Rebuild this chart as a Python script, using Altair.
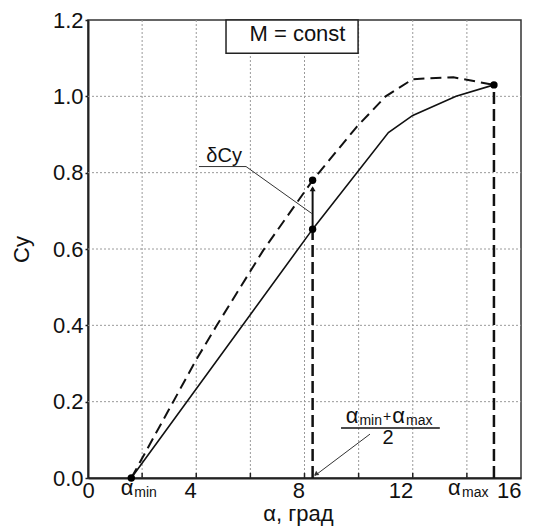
import altair as alt
import pandas as pd

# Lift coefficient Cy versus angle of attack (deg)
solid_alpha = [1.6, 8.3, 11.1, 12.0, 13.6, 15.0]
solid_cy = [0.0, 0.652, 0.905, 0.95, 1.0, 1.03]

dashed_alpha = [1.6, 3.15, 4.0, 4.76, 6.48, 8.3, 9.93, 11.0, 12.0, 13.5, 15.0]
dashed_cy = [0.0, 0.2, 0.31, 0.4, 0.597, 0.78, 0.92, 1.0, 1.045, 1.05, 1.03]

alpha_min = 1.6
alpha_max = 15.0
alpha_mid = (alpha_min + alpha_max) / 2
cy_mid_solid = 0.652
cy_mid_dashed = 0.78
cy_end = 1.03

x_ticks = [0, 4, 8, 12, 16]
x_grid = [2, 4, 6, 8, 10, 12, 14]
y_ticks = [0.0, 0.2, 0.4, 0.6, 0.8, 1.0, 1.2]
y_grid = [0.2, 0.4, 0.6, 0.8, 1.0]

W, H = 433, 458
FONT = "Liberation Sans"
INK = "#111111"
X_TITLE = "α, град"
Y_TITLE = "Cy"

xs = alt.Scale(domain=[0, 16], nice=False, zero=False)
ys = alt.Scale(domain=[0, 1.2], nice=False, zero=False)


def X(field="a", **kw):
    return alt.X(f"{field}:Q", scale=xs, title=X_TITLE, **kw)


def Y(field="cy", **kw):
    return alt.Y(f"{field}:Q", scale=ys, title=Y_TITLE, **kw)


x_axis = alt.Axis(
    values=x_ticks, grid=False, ticks=False,
    labelFontSize=22,
    labelAlign={"condition": {"test": "datum.value == 0", "value": "center"}, "value": "right"},
    labelPadding=2, labelColor=INK,
    titleFontSize=22, titleFontWeight="normal", titleColor=INK, titlePadding=2,
    titleX=210, titleAlign="center",
    domainColor="#222222", domainWidth=2,
)
y_axis = alt.Axis(
    values=y_ticks, format=".1f", grid=False,
    tickSize=3, tickColor="#222222", tickWidth=1.5,
    labelFontSize=22, labelPadding=2, labelColor=INK,
    titleFontSize=22, titleFontWeight="normal", titleColor=INK, titlePadding=19,
    domainColor="#222222", domainWidth=2,
)

# dotted grid, carrying both axes
gx = alt.Chart(pd.DataFrame({"a": x_grid})).mark_rule(
    color="#9a9a9a", strokeDash=[2, 2], strokeWidth=1
).encode(x=X("a", axis=x_axis), y=alt.value(0), y2=alt.value(H))
gy = alt.Chart(pd.DataFrame({"cy": y_grid})).mark_rule(
    color="#9a9a9a", strokeDash=[2, 2], strokeWidth=1
).encode(y=Y("cy", axis=y_axis), x=alt.value(0), x2=alt.value(W))

# inward ticks on the alpha axis
inticks = alt.Chart(pd.DataFrame({"a": x_grid})).mark_rule(
    color="#222222", strokeWidth=1.5
).encode(x=X("a"), y=alt.value(H), y2=alt.value(H - 5))

df_solid = pd.DataFrame({"a": solid_alpha, "cy": solid_cy, "i": range(len(solid_alpha))})
df_dash = pd.DataFrame({"a": dashed_alpha, "cy": dashed_cy, "i": range(len(dashed_alpha))})

solid = alt.Chart(df_solid).mark_line(color=INK, strokeWidth=1.6).encode(
    x=X(), y=Y(), order="i:Q")
dashed = alt.Chart(df_dash).mark_line(color=INK, strokeWidth=2, strokeDash=[11, 6]).encode(
    x=X(), y=Y(), order="i:Q")

# vertical dashed drop lines
drops = alt.Chart(pd.DataFrame({
    "a": [alpha_mid, alpha_max], "cy": [0.0, 0.0], "cy2": [cy_mid_solid, cy_end]
})).mark_rule(color=INK, strokeWidth=2.5, strokeDash=[12, 5]).encode(
    x=X(), y=Y(), y2="cy2:Q")

# delta Cy arrow
dcy = alt.Chart(pd.DataFrame({"a": [alpha_mid], "cy": [cy_mid_solid], "cy2": [cy_mid_dashed - 0.02]})).mark_rule(
    color=INK, strokeWidth=2).encode(x=X(), y=Y(), y2="cy2:Q")
dcy_head = alt.Chart(pd.DataFrame({"a": [alpha_mid], "cy": [cy_mid_dashed - 0.022]})).mark_point(
    shape="triangle-up", filled=True, color=INK, size=35, opacity=1).encode(x=X(), y=Y())

# leader lines
leaders = pd.DataFrame({
    "a": [4.10, 5.84, 8.27, 10.42, 8.38],
    "cy": [0.816, 0.816, 0.693, 0.115, 0.006],
    "g": ["d", "d", "d", "f", "f"],
    "i": [0, 1, 2, 0, 1],
})
lead = alt.Chart(leaders).mark_line(color="#333333", strokeWidth=1).encode(
    x=X(), y=Y(), detail="g:N", order="i:Q")
lead_head = alt.Chart(pd.DataFrame({"a": [8.42], "cy": [0.01]})).mark_point(
    shape="triangle-up", filled=True, color="#333333", size=28, angle=233, opacity=1
).encode(x=X(), y=Y())

# marked points
dots = alt.Chart(pd.DataFrame({
    "a": [alpha_min, alpha_mid, alpha_mid, alpha_max],
    "cy": [0.0, cy_mid_solid, cy_mid_dashed, cy_end],
})).mark_circle(color="#000000", size=55, opacity=1).encode(x=X(), y=Y())

# "M = const" box
box = alt.Chart(pd.DataFrame({"a": [5.10], "a2": [9.98], "cy": [1.113], "cy2": [1.2]})).mark_rect(
    fill="white", stroke="#222222", strokeWidth=1.5).encode(x=X(), x2="a2:Q", y=Y(), y2="cy2:Q")
box_text = alt.Chart(pd.DataFrame({"a": [7.74], "cy": [1.163], "t": ["M = const"]})).mark_text(
    font=FONT, fontSize=22, color=INK, baseline="middle", align="center").encode(x=X(), y=Y(), text="t:N")

dcy_text = alt.Chart(pd.DataFrame({"a": [5.03], "cy": [0.828], "t": ["δCy"]})).mark_text(
    font=FONT, fontSize=20, color=INK, baseline="alphabetic", align="center").encode(x=X(), y=Y(), text="t:N")

# alpha labels with subscripts, on the axis and in the fraction
big = pd.DataFrame({
    "a": [1.21, 13.30, 9.52, 11.24],
    "cy": [-0.0445, -0.0445, 0.144, 0.144],
    "t": ["α", "α", "α", "α"],
})
small = pd.DataFrame({
    "a": [1.71, 13.82, 10.03, 11.75],
    "cy": [-0.05, -0.05, 0.138, 0.138],
    "t": ["min", "max", "min", "max"],
})
big_t = alt.Chart(big).mark_text(font=FONT, fontSize=22, color=INK, align="left", baseline="alphabetic").encode(
    x=X(), y=Y(), text="t:N")
small_t = alt.Chart(small).mark_text(font=FONT, fontSize=14, color=INK, align="left", baseline="alphabetic").encode(
    x=X(), y=Y(), text="t:N")
plus_t = alt.Chart(pd.DataFrame({"a": [10.90], "cy": [0.149], "t": ["+"]})).mark_text(
    font=FONT, fontSize=14, color=INK, align="left", baseline="alphabetic").encode(x=X(), y=Y(), text="t:N")
frac_line = alt.Chart(pd.DataFrame({"a": [9.35], "a2": [13.0], "cy": [0.131]})).mark_rule(
    color=INK, strokeWidth=1.5).encode(x=X(), x2="a2:Q", y=Y())
two_t = alt.Chart(pd.DataFrame({"a": [11.09], "cy": [0.089], "t": ["2"]})).mark_text(
    font=FONT, fontSize=20, color=INK, align="center", baseline="alphabetic").encode(x=X(), y=Y(), text="t:N")

chart = alt.layer(
    gx, gy, inticks, drops, dashed, solid, dcy, dcy_head, lead, lead_head, dots,
    box, box_text, dcy_text, big_t, small_t, plus_t, frac_line, two_t,
).properties(
    width=W, height=H,
    autosize=alt.AutoSizeParams(type="none"),
    padding={"left": 88, "top": 20, "right": 15, "bottom": 53},
    background="white",
).configure(font=FONT).configure_view(stroke="#333333", strokeWidth=1.5)

chart.save("out.html", embed_options={"renderer": "svg", "actions": False})
